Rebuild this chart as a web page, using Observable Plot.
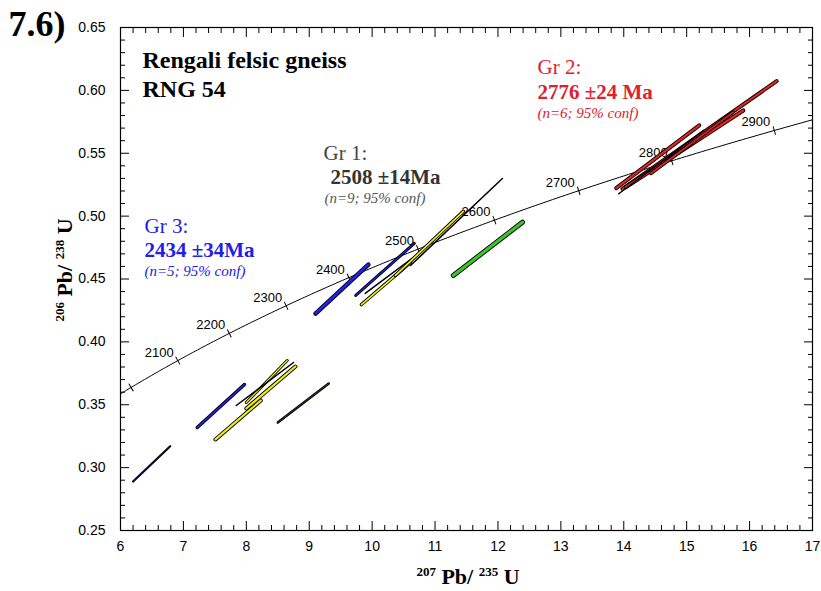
<!DOCTYPE html>
<html>
<head>
<meta charset="utf-8">
<script src="https://cdn.jsdelivr.net/npm/d3@7"></script>
<script src="https://cdn.jsdelivr.net/npm/@observablehq/plot@0.6"></script>
<style>
  body { margin: 0; background: #fff; }
  svg { display: block; }
</style>
</head>
<body>
<div id="chart"></div>
<script>
// ---- Spot analyses (207Pb/235U, 206Pb/238U, 2σ half-widths, error correlation) ----
const spotGroup = ["Gr3", "Gr3", "Gr1", "Gr1", "Gr1", "excluded", "dark",
                   "Gr3", "Gr3", "Gr1", "excluded", "Gr1", "excluded", "discordant",
                   "Gr2", "Gr2", "Gr2", "excluded", "Gr2"];
const spotX   = [6.495, 7.595, 7.87, 8.39, 8.325, 8.295, 8.905,
                 9.52, 10.205, 10.22, 10.315, 10.91, 11.34, 11.84,
                 14.54, 15.205, 14.965, 14.595, 15.085];
const spotSX  = [0.295, 0.375, 0.36, 0.39, 0.325, 0.455, 0.405,
                 0.42, 0.465, 0.39, 0.425, 0.54, 0.73, 0.55,
                 0.66, 1.225, 0.935, 0.675, 0.655];
const spotY   = [0.303, 0.349, 0.3379, 0.3637, 0.3685, 0.3665, 0.3514,
                 0.442, 0.4576, 0.4464, 0.4544, 0.4783, 0.4953, 0.474,
                 0.5472, 0.5645, 0.5535, 0.543, 0.5583];
const spotSY  = [0.014, 0.0171, 0.0155, 0.0167, 0.0167, 0.0171, 0.0155,
                 0.0195, 0.0207, 0.0167, 0.0159, 0.0255, 0.0346, 0.0212,
                 0.025, 0.0428, 0.0305, 0.0252, 0.0244];
const spotRho = [0.996, 0.994, 0.9907, 0.992, 0.9947, 0.999, 0.9965,
                 0.992, 0.997, 0.994, 0.9989, 0.9972, 0.9997, 0.993,
                 0.9968, 0.999, 0.998, 0.99956, 0.9975];

// Concordia age marks (Ma)
const ageTicks  = [2000, 2100, 2200, 2300, 2400, 2500, 2600, 2700, 2800, 2900];
const ageLabels = [2100, 2200, 2300, 2400, 2500, 2600, 2700, 2800, 2900];

// Axis ticks
const xTicks = [6, 7, 8, 9, 10, 11, 12, 13, 14, 15, 16, 17];
const yTicks = [0.25, 0.30, 0.35, 0.40, 0.45, 0.50, 0.55, 0.60, 0.65];

// Group colours
const groupFill = {
  Gr1: "#f2ee14", Gr2: "#e42424", Gr3: "#2121e8",
  discordant: "#3cc42e", excluded: "#111111", dark: "#2f5a24"
};

// ---- Layout ----
const W = 821, H = 591, ML = 120, MR = 9, MT = 27, MB = 61;
const xDomain = [6, 17], yDomain = [0.25, 0.65];
const kx = (W - ML - MR) / (xDomain[1] - xDomain[0]);
const ky = (H - MT - MB) / (yDomain[1] - yDomain[0]);

// ---- Decay constants (per Ma) ----
const L238 = 1.55125e-4, L235 = 9.8485e-4;
const conX = t => Math.exp(L235 * t) - 1;
const conY = t => Math.exp(L238 * t) - 1;

const concordia = d3.range(1900, 3001, 5).map(t => ({t, x: conX(t), y: conY(t)}));

// tick direction: perpendicular to the curve in screen space
const tickRows = ageTicks.map(t => {
  const dx = L235 * Math.exp(L235 * t) * kx;
  const dy = L238 * Math.exp(L238 * t) * ky;
  const along = Math.atan2(dx, dy) * 180 / Math.PI;
  return {t, x: conX(t), y: conY(t), rotate: along + 90};
});
const labelRows = ageLabels.map(t => ({t, x: conX(t), y: conY(t)}));

// Each analysis is drawn along its error ellipse's long axis, as wide as the
// ellipse's minor axis: a black outline first, then the group colour inside.
const spotRows = [];
spotX.forEach((cx, i) => {
  const Sx = spotSX[i] * kx, Sy = spotSY[i] * ky;
  const minor = 2 * Sx * Sy * Math.sqrt(1 - spotRho[i] ** 2) / Math.hypot(Sx, Sy);
  const ends = {x1: cx - spotSX[i], y1: spotY[i] - spotSY[i], x2: cx + spotSX[i], y2: spotY[i] + spotSY[i]};
  spotRows.push({...ends, stroke: "#000", width: Math.max(minor, 1.3)});
  if (spotGroup[i] !== "excluded" && minor > 2.2) {
    spotRows.push({...ends, stroke: groupFill[spotGroup[i]], width: minor - 1.8});
  }
});

const lineShape = {draw(context, l) { context.moveTo(0, 0); context.lineTo(0, -l); }};

// text placed relative to the frame's top-left corner
const note = (text, px, py, o = {}) => Plot.text([text], {
  text: d => d, frameAnchor: "top-left", dx: px - ML, dy: py - MT,
  textAnchor: "start", lineAnchor: "bottom",
  fontFamily: "Liberation Serif", ...o
});

const range = (a, b, s) => d3.range(Math.round(a / s), Math.round(b / s) + 1).map(k => +(k * s).toFixed(4));
const xMinor = range(6, 17, 0.2).filter(v => !xTicks.includes(v));
const yMinor = range(0.25, 0.65, 0.01).filter(v => !yTicks.some(t => Math.abs(t - v) < 1e-6));

const chart = Plot.plot({
  width: W, height: H,
  marginLeft: ML, marginRight: MR, marginTop: MT, marginBottom: MB,
  style: {fontFamily: "Liberation Sans", fontSize: "13px", color: "black", background: "white"},
  x: {domain: xDomain},
  y: {domain: yDomain},
  marks: [
    // frame ticks, pointing inward
    Plot.axisX(xTicks, {anchor: "bottom", tickSize: -9, tickPadding: 20, fontSize: 14, label: null, tickFormat: d => d}),
    Plot.axisX(xTicks, {anchor: "top", tickSize: -9, fill: "none", label: null}),
    Plot.axisX(xMinor, {anchor: "bottom", tickSize: -5, fill: "none", label: null}),
    Plot.axisX(xMinor, {anchor: "top", tickSize: -5, fill: "none", label: null}),
    Plot.axisY(yTicks, {anchor: "left", tickSize: -9, tickPadding: 24, fontSize: 14, label: null, tickFormat: d3.format(".2f")}),
    Plot.axisY(yTicks, {anchor: "right", tickSize: -9, fill: "none", label: null}),
    Plot.axisY(yMinor, {anchor: "left", tickSize: -5, fill: "none", label: null}),
    Plot.axisY(yMinor, {anchor: "right", tickSize: -5, fill: "none", label: null}),
    Plot.frame({stroke: "black", strokeWidth: 1.2}),

    // concordia
    Plot.line(concordia, {x: "x", y: "y", stroke: "black", strokeWidth: 1, clip: true}),
    Plot.vector(tickRows, {x: "x", y: "y", rotate: "rotate", length: 8, anchor: "middle",
      shape: lineShape, stroke: "black", strokeWidth: 1, clip: true}),
    Plot.text(labelRows, {x: "x", y: "y", text: d => String(d.t), textAnchor: "end",
      lineAnchor: "bottom", dx: -4, dy: -4, fontSize: 13, fill: "black"}),

    // analyses
    Plot.link(spotRows, {x1: "x1", y1: "y1", x2: "x2", y2: "y2",
      stroke: "stroke", strokeWidth: "width", strokeLinecap: "round"}),

    // annotations
    note("7.6)", 8, 35, {fontSize: 36, fontWeight: "bold"}),
    note("Rengali felsic gneiss", 142, 67, {fontSize: 24, fontWeight: "bold"}),
    note("RNG 54", 142, 96, {fontSize: 24, fontWeight: "bold"}),

    note("Gr 3:", 144, 232, {fontSize: 21, fill: "#2020e6"}),
    note("2434 ±34Ma", 144, 256, {fontSize: 21, fontWeight: "bold", fill: "#2020e6"}),
    note("(n=5; 95% conf)", 144, 275, {fontSize: 15, fontStyle: "italic", fill: "#2020e6"}),

    note("Gr 1:", 323, 159, {fontSize: 21, fill: "#444"}),
    note("2508 ±14Ma", 330, 183, {fontSize: 21, fontWeight: "bold", fill: "#333"}),
    note("(n=9; 95% conf)", 324, 202, {fontSize: 15, fontStyle: "italic", fill: "#555"}),

    note("Gr 2:", 537, 73, {fontSize: 21, fill: "#e0202a"}),
    note("2776 ±24 Ma", 537, 98, {fontSize: 21, fontWeight: "bold", fill: "#e0202a"}),
    note("(n=6; 95% conf)", 537, 117, {fontSize: 15, fontStyle: "italic", fill: "#e0202a"})
  ]
});

document.getElementById("chart").append(chart);

// axis titles with superscript isotope masses
const svg = d3.select(chart);
const xt = svg.append("text")
  .attr("x", 468).attr("y", 584).attr("text-anchor", "middle")
  .attr("font-family", "Liberation Serif").attr("font-weight", "bold").attr("font-size", 22);
xt.append("tspan").attr("font-size", 13).attr("dy", -8).text("207");
xt.append("tspan").attr("dy", 8).text(" Pb/ ");
xt.append("tspan").attr("font-size", 13).attr("dy", -8).text("235");
xt.append("tspan").attr("dy", 8).text(" U");

const yt = svg.append("text")
  .attr("transform", "translate(72,270) rotate(-90)").attr("text-anchor", "middle")
  .attr("font-family", "Liberation Serif").attr("font-weight", "bold").attr("font-size", 22);
yt.append("tspan").attr("font-size", 13).attr("dy", -8).text("206");
yt.append("tspan").attr("dy", 8).text(" Pb/ ");
yt.append("tspan").attr("font-size", 13).attr("dy", -8).text("238");
yt.append("tspan").attr("dy", 8).text(" U");
</script>
</body>
</html>
